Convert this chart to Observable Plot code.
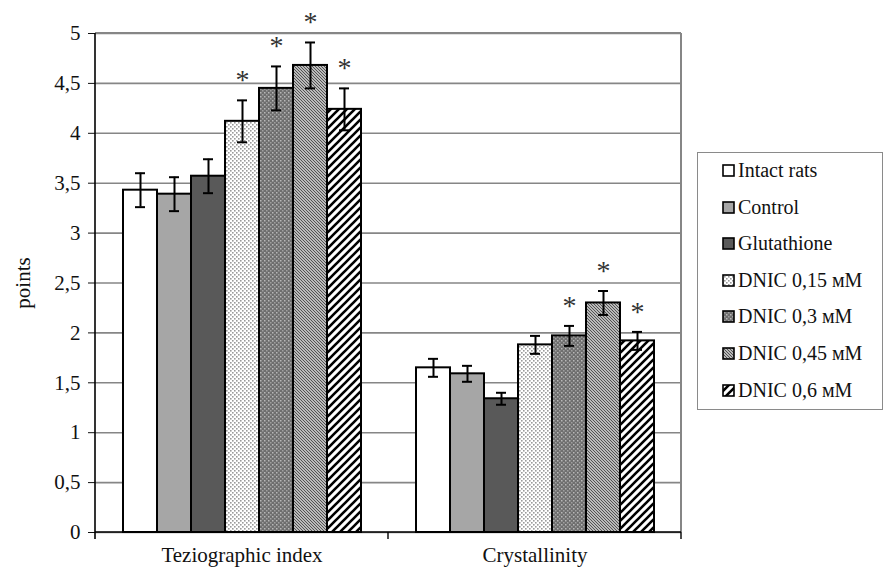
<!DOCTYPE html>
<html>
<head>
<meta charset="utf-8">
<script src="https://cdn.jsdelivr.net/npm/d3@7"></script>
<script src="https://cdn.jsdelivr.net/npm/@observablehq/plot@0.6"></script>
<style>
  body { margin: 0; background: #fff; }
  #wrap { position: relative; width: 886px; height: 574px; overflow: hidden; font-family: 'Liberation Serif', 'DejaVu Serif', 'Noto Serif', serif; }
  #chart { position: absolute; left: 0; top: 0; }
  #legend { position: absolute; left: 697px; top: 152px; width: 186px; height: 258px; box-sizing: border-box; border: 1.5px solid #8a8a8a; background: #fff; }
  .item { position: absolute; left: 24px; display: flex; align-items: center; font-size: 20px; color: #111; white-space: nowrap; }
  .item svg { margin-right: 3px; }
</style>
</head>
<body>
<svg width="0" height="0" style="position:absolute">
  <defs>
    <pattern id="p0" patternUnits="userSpaceOnUse" width="4" height="4"><rect width="4" height="4" fill="#ffffff"/></pattern>
    <pattern id="p1" patternUnits="userSpaceOnUse" width="4" height="4"><rect width="4" height="4" fill="#a6a6a6"/></pattern>
    <pattern id="p2" patternUnits="userSpaceOnUse" width="4" height="4"><rect width="4" height="4" fill="#595959"/></pattern>
    <pattern id="p3" patternUnits="userSpaceOnUse" width="4" height="4">
      <rect width="4" height="4" fill="#ffffff"/>
      <rect x="0" y="0" width="1.6" height="1.6" fill="#9a9a9a"/>
      <rect x="2" y="2" width="1.6" height="1.6" fill="#9a9a9a"/>
    </pattern>
    <pattern id="p4" patternUnits="userSpaceOnUse" width="4" height="4">
      <rect width="4" height="4" fill="#6e6e6e"/>
      <rect x="0" y="0" width="1.5" height="1.5" fill="#b8b8b8"/>
      <rect x="2" y="2" width="1.5" height="1.5" fill="#a0a0a0"/>
    </pattern>
    <pattern id="p5" patternUnits="userSpaceOnUse" width="3" height="3">
      <rect width="3" height="3" fill="#e6e6e6"/>
      <path d="M-1,-1 L4,4 M-1,2 L1,4 M2,-1 L4,1" stroke="#4a4a4a" stroke-width="1.1"/>
    </pattern>
    <pattern id="p6" patternUnits="userSpaceOnUse" width="8" height="8">
      <rect width="8" height="8" fill="#ffffff"/>
      <path d="M-2,10 L10,-2 M-2,2 L2,-2 M6,10 L10,6" stroke="#000" stroke-width="2.6"/>
    </pattern>
  </defs>
</svg>
<div id="wrap">
  <div id="chart"></div>
  <div id="legend"></div>
</div>
<script>
const categories = ["Teziographic index", "Crystallinity"];
const series = ["Intact rats", "Control", "Glutathione", "DNIC 0,15 мМ", "DNIC 0,3 мМ", "DNIC 0,45 мМ", "DNIC 0,6 мМ"];
const teziValues = [3.43, 3.39, 3.57, 4.12, 4.45, 4.68, 4.24];
const teziErrors = [0.17, 0.17, 0.17, 0.21, 0.22, 0.23, 0.21];
const teziSignificant = [false, false, false, true, true, true, true];
const crystValues = [1.65, 1.59, 1.34, 1.88, 1.97, 2.30, 1.92];
const crystErrors = [0.09, 0.08, 0.06, 0.09, 0.10, 0.12, 0.09];
const crystSignificant = [false, false, false, false, true, true, true];
const yTicks = [0, 0.5, 1, 1.5, 2, 2.5, 3, 3.5, 4, 4.5, 5];
const yLabel = "points";

const patternIds = ["p0", "p1", "p2", "p3", "p4", "p5", "p6"];
const fillOf = s => `url(#${patternIds[series.indexOf(s)]})`;

const rows = [];
const sets = [[teziValues, teziErrors, teziSignificant], [crystValues, crystErrors, crystSignificant]];
categories.forEach((c, ci) => {
  const [vals, errs, sig] = sets[ci];
  series.forEach((s, si) => rows.push({category: c, series: s, value: vals[si], err: errs[si], sig: sig[si]}));
});

const plot = Plot.plot({
  width: 886,
  height: 574,
  marginLeft: 95,
  marginRight: 205,
  marginTop: 33,
  marginBottom: 42,
  style: {fontFamily: "'Liberation Serif', 'DejaVu Serif', 'Noto Serif', serif", fontSize: "21px", color: "#111", background: "#fff"},
  fx: {domain: categories, padding: 0, label: null, axis: "bottom", tickSize: 0, tickPadding: 15},
  x: {domain: series, paddingInner: 0, paddingOuter: 0.72, axis: null},
  y: {domain: [0, 5], ticks: yTicks, tickSize: 7, tickPadding: 8,
      tickFormat: d => String(d).replace(".", ","),
      label: yLabel, labelAnchor: "center", labelOffset: 80, labelArrow: "none"},
  color: {type: "identity"},
  marks: [
    Plot.gridY(yTicks, {stroke: "#868686", strokeOpacity: 1, strokeWidth: 1.6}),
    Plot.barY(rows, {fx: "category", x: "series", y: "value", fill: d => fillOf(d.series), stroke: "#000", strokeWidth: 2}),
    Plot.ruleX(rows, {fx: "category", x: "series", y1: d => d.value - d.err, y2: d => d.value + d.err, stroke: "#000", strokeWidth: 2}),
    Plot.tickY(rows, {fx: "category", x: "series", y: d => d.value - d.err, stroke: "#000", strokeWidth: 2, insetLeft: 12, insetRight: 12}),
    Plot.tickY(rows, {fx: "category", x: "series", y: d => d.value + d.err, stroke: "#000", strokeWidth: 2, insetLeft: 12, insetRight: 12}),
    Plot.text(rows.filter(d => d.sig), {fx: "category", x: "series", y: d => d.value + d.err, text: () => "*", dy: -20, fontSize: 28, fill: "#333", lineAnchor: "middle"})
  ]
});
document.getElementById("chart").appendChild(plot);

// Axis lines, category boundary ticks and plot-area border, positioned from the library's scales
const fx = plot.scale("fx"), y = plot.scale("y");
const left = fx.apply(categories[0]);
const right = fx.apply(categories[categories.length - 1]) + fx.bandwidth;
const y0 = y.apply(0), yTop = y.apply(5);
const svg = d3.select(plot);
const g = svg.append("g");
g.append("line").attr("x1", left).attr("x2", right).attr("y1", yTop).attr("y2", yTop).attr("stroke", "#868686").attr("stroke-width", 2);
g.append("line").attr("x1", right).attr("x2", right).attr("y1", yTop).attr("y2", y0).attr("stroke", "#868686").attr("stroke-width", 2);
g.append("line").attr("x1", left).attr("x2", right).attr("y1", y0).attr("y2", y0).attr("stroke", "#000").attr("stroke-width", 1.6);
g.append("line").attr("x1", left).attr("x2", left).attr("y1", yTop).attr("y2", y0 + 7).attr("stroke", "#000").attr("stroke-width", 1.6);
categories.forEach(c => {
  const xr = fx.apply(c) + fx.bandwidth;
  g.append("line").attr("x1", xr).attr("x2", xr).attr("y1", y0).attr("y2", y0 + 7).attr("stroke", "#000").attr("stroke-width", 1.4);
});

// Legend
const legend = document.getElementById("legend");
series.forEach((s, i) => {
  const div = document.createElement("div");
  div.className = "item";
  div.style.top = (6 + i * 36.6) + "px";
  div.innerHTML = `<svg width="13" height="13"><rect x="1" y="1" width="11" height="11" fill="${fillOf(s)}" stroke="#000" stroke-width="1.6"/></svg><span>${s}</span>`;
  legend.appendChild(div);
});
</script>
</body>
</html>
